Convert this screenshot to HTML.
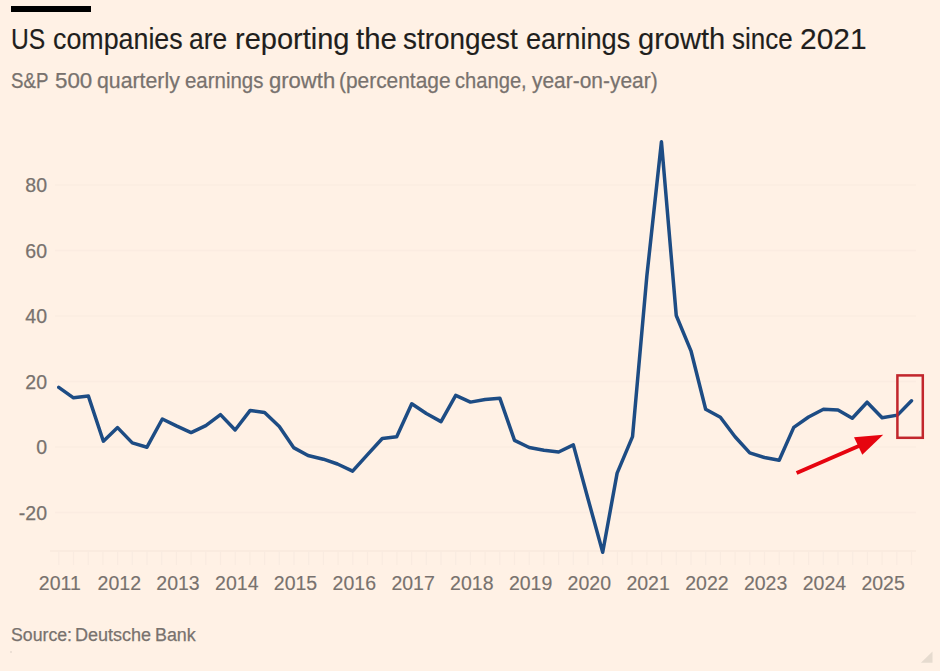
<!DOCTYPE html>
<html><head><meta charset="utf-8"><style>
html,body{margin:0;padding:0;}
body{width:940px;height:671px;background:#fff1e5;position:relative;overflow:hidden;font-family:"Liberation Sans",sans-serif;}
.bar{position:absolute;left:10.7px;top:6.4px;width:80px;height:5.4px;background:#000;}
.t,.s,.c{position:absolute;white-space:nowrap;transform-origin:0 0;}
.t{font-size:28.8px;line-height:28.8px;color:#211e1c;-webkit-text-stroke:0.15px #211e1c;}
.s{font-size:21.5px;line-height:21.5px;color:#78726e;-webkit-text-stroke:0.25px #78726e;}
.c{font-size:18px;line-height:18px;color:#78726e;-webkit-text-stroke:0.25px #78726e;}
.yl{position:absolute;right:893px;font-size:19.5px;color:#78726e;-webkit-text-stroke:0.25px #78726e;line-height:24px;text-align:right;}
.xl{position:absolute;top:571.2px;font-size:19.5px;color:#78726e;-webkit-text-stroke:0.15px #78726e;line-height:24px;}
svg{position:absolute;left:0;top:0;}
</style></head><body>
<div class="bar"></div>
<span class="t" style="left:10.55px;top:25.00px;transform:scaleX(0.8564)">US</span>
<span class="t" style="left:52.59px;top:25.00px;transform:scaleX(0.9310)">companies</span>
<span class="t" style="left:189.41px;top:25.00px;transform:scaleX(0.9174)">are</span>
<span class="t" style="left:234.91px;top:25.00px;transform:scaleX(1.0075)">reporting</span>
<span class="t" style="left:355.76px;top:25.00px;transform:scaleX(1.0208)">the</span>
<span class="t" style="left:402.86px;top:25.00px;transform:scaleX(0.9688)">strongest</span>
<span class="t" style="left:525.58px;top:25.00px;transform:scaleX(0.9441)">earnings</span>
<span class="t" style="left:638.24px;top:25.00px;transform:scaleX(1.0099)">growth</span>
<span class="t" style="left:732.02px;top:25.00px;transform:scaleX(0.9019)">since</span>
<span class="t" style="left:800.20px;top:25.00px;transform:scaleX(1.0392)">2021</span>
<span class="s" style="left:10.86px;top:71.00px;transform:scaleX(0.8692)">S&amp;P</span>
<span class="s" style="left:55.01px;top:71.00px;transform:scaleX(1.0388)">500</span>
<span class="s" style="left:96.75px;top:71.00px;transform:scaleX(0.9895)">quarterly</span>
<span class="s" style="left:185.38px;top:71.00px;transform:scaleX(0.9501)">earnings</span>
<span class="s" style="left:269.02px;top:71.00px;transform:scaleX(1.0250)">growth</span>
<span class="s" style="left:338.85px;top:71.00px;transform:scaleX(0.9720)">(percentage</span>
<span class="s" style="left:455.39px;top:71.00px;transform:scaleX(0.9370)">change,</span>
<span class="s" style="left:531.90px;top:71.00px;transform:scaleX(0.9741)">year-on-year)</span>
<svg width="940" height="671" viewBox="0 0 940 671">
<g stroke="#fbece1" stroke-width="1.5"><line x1="55" y1="185" x2="916" y2="185" /><line x1="55" y1="250.5" x2="916" y2="250.5" /><line x1="55" y1="316" x2="916" y2="316" /><line x1="55" y1="381.5" x2="916" y2="381.5" /><line x1="55" y1="447" x2="916" y2="447" /><line x1="55" y1="512.5" x2="916" y2="512.5" /></g>
<line x1="50" y1="551" x2="916" y2="551" stroke="#f8e9dd" stroke-width="1.5"/>
<g stroke="#f9ebe0" stroke-width="1.2"><line x1="58.8" y1="551" x2="58.8" y2="565" /><line x1="73.5" y1="551" x2="73.5" y2="565" /><line x1="88.2" y1="551" x2="88.2" y2="565" /><line x1="102.9" y1="551" x2="102.9" y2="565" /><line x1="117.6" y1="551" x2="117.6" y2="565" /><line x1="132.3" y1="551" x2="132.3" y2="565" /><line x1="147.0" y1="551" x2="147.0" y2="565" /><line x1="161.7" y1="551" x2="161.7" y2="565" /><line x1="176.4" y1="551" x2="176.4" y2="565" /><line x1="191.1" y1="551" x2="191.1" y2="565" /><line x1="205.8" y1="551" x2="205.8" y2="565" /><line x1="220.5" y1="551" x2="220.5" y2="565" /><line x1="235.2" y1="551" x2="235.2" y2="565" /><line x1="249.9" y1="551" x2="249.9" y2="565" /><line x1="264.6" y1="551" x2="264.6" y2="565" /><line x1="279.3" y1="551" x2="279.3" y2="565" /><line x1="294.0" y1="551" x2="294.0" y2="565" /><line x1="308.7" y1="551" x2="308.7" y2="565" /><line x1="323.4" y1="551" x2="323.4" y2="565" /><line x1="338.1" y1="551" x2="338.1" y2="565" /><line x1="352.8" y1="551" x2="352.8" y2="565" /><line x1="367.5" y1="551" x2="367.5" y2="565" /><line x1="382.2" y1="551" x2="382.2" y2="565" /><line x1="396.9" y1="551" x2="396.9" y2="565" /><line x1="411.6" y1="551" x2="411.6" y2="565" /><line x1="426.3" y1="551" x2="426.3" y2="565" /><line x1="441.0" y1="551" x2="441.0" y2="565" /><line x1="455.7" y1="551" x2="455.7" y2="565" /><line x1="470.4" y1="551" x2="470.4" y2="565" /><line x1="485.1" y1="551" x2="485.1" y2="565" /><line x1="499.8" y1="551" x2="499.8" y2="565" /><line x1="514.5" y1="551" x2="514.5" y2="565" /><line x1="529.2" y1="551" x2="529.2" y2="565" /><line x1="543.9" y1="551" x2="543.9" y2="565" /><line x1="558.6" y1="551" x2="558.6" y2="565" /><line x1="573.3" y1="551" x2="573.3" y2="565" /><line x1="588.0" y1="551" x2="588.0" y2="565" /><line x1="602.7" y1="551" x2="602.7" y2="565" /><line x1="617.4" y1="551" x2="617.4" y2="565" /><line x1="632.1" y1="551" x2="632.1" y2="565" /><line x1="646.9" y1="551" x2="646.9" y2="565" /><line x1="661.6" y1="551" x2="661.6" y2="565" /><line x1="676.3" y1="551" x2="676.3" y2="565" /><line x1="691.0" y1="551" x2="691.0" y2="565" /><line x1="705.7" y1="551" x2="705.7" y2="565" /><line x1="720.4" y1="551" x2="720.4" y2="565" /><line x1="735.1" y1="551" x2="735.1" y2="565" /><line x1="749.8" y1="551" x2="749.8" y2="565" /><line x1="764.5" y1="551" x2="764.5" y2="565" /><line x1="779.2" y1="551" x2="779.2" y2="565" /><line x1="793.9" y1="551" x2="793.9" y2="565" /><line x1="808.6" y1="551" x2="808.6" y2="565" /><line x1="823.3" y1="551" x2="823.3" y2="565" /><line x1="838.0" y1="551" x2="838.0" y2="565" /><line x1="852.7" y1="551" x2="852.7" y2="565" /><line x1="867.4" y1="551" x2="867.4" y2="565" /><line x1="882.1" y1="551" x2="882.1" y2="565" /><line x1="896.8" y1="551" x2="896.8" y2="565" /><line x1="911.5" y1="551" x2="911.5" y2="565" /></g>
<polyline points="58.77,387.3 73.49,397.8 88.40,396.1 103.38,441.2 117.58,427.6 132.28,442.9 146.98,447.2 162.33,419.0 176.39,425.9 191.09,432.6 205.79,425.7 220.49,414.6 235.13,430.0 250.18,410.4 264.60,412.6 279.30,426.6 293.58,447.6 308.00,455.5 323.41,459.2 337.47,464.0 352.59,471.2 367.51,454.6 382.27,438.5 396.69,436.8 411.75,403.8 426.32,413.5 441.02,421.6 455.72,395.3 470.43,402.1 485.13,399.5 499.83,398.2 514.53,440.4 529.23,447.5 543.94,450.3 558.64,452.0 573.34,444.9 588.04,499.0 602.71,552.2 617.13,473.1 632.53,436.6 646.85,276.0 661.45,141.8 676.25,315.5 690.96,350.8 705.66,409.2 720.36,417.2 735.06,436.8 749.76,452.9 764.47,457.5 779.17,460.3 793.75,427.4 808.57,417.0 823.43,409.2 837.98,410.0 852.27,418.2 867.11,402.2 882.08,417.8 897.50,415.1 911.49,400.8" fill="none" stroke="#1d4c84" stroke-width="3.5" stroke-linejoin="round" stroke-linecap="round"/>
<rect x="897.4" y="375.4" width="25.4" height="62.4" fill="none" stroke="#c2262c" stroke-width="2.5"/>
<line x1="796.6" y1="473" x2="860" y2="445.5" stroke="#e6040f" stroke-width="4"/>
<polygon points="854,437.2 883.2,434.7 862.3,454.7" fill="#e6040f"/>
<rect x="10.5" y="651.5" width="1" height="1" fill="#b9b0a8"/>
<polygon points="932.5,651.6 932.5,662.8 920.9,662.8" fill="#e6dbcf"/>
</svg>
<div class="yl" style="top:173.0px">80</div><div class="yl" style="top:238.5px">60</div><div class="yl" style="top:304.0px">40</div><div class="yl" style="top:369.5px">20</div><div class="yl" style="top:435.0px">0</div><div class="yl" style="top:500.5px">-20</div>
<div class="xl" style="left:38.8px">2011</div><div class="xl" style="left:97.6px">2012</div><div class="xl" style="left:156.3px">2013</div><div class="xl" style="left:215.1px">2014</div><div class="xl" style="left:273.8px">2015</div><div class="xl" style="left:332.6px">2016</div><div class="xl" style="left:391.4px">2017</div><div class="xl" style="left:450.1px">2018</div><div class="xl" style="left:508.9px">2019</div><div class="xl" style="left:567.6px">2020</div><div class="xl" style="left:626.4px">2021</div><div class="xl" style="left:685.2px">2022</div><div class="xl" style="left:743.9px">2023</div><div class="xl" style="left:802.7px">2024</div><div class="xl" style="left:861.4px">2025</div>
<span class="c" style="left:10.70px;top:626.00px;transform:scaleX(0.9836)">Source:</span>
<span class="c" style="left:74.56px;top:626.00px;transform:scaleX(1.0014)">Deutsche</span>
<span class="c" style="left:155.07px;top:626.00px;transform:scaleX(0.9924)">Bank</span>
</body></html>
